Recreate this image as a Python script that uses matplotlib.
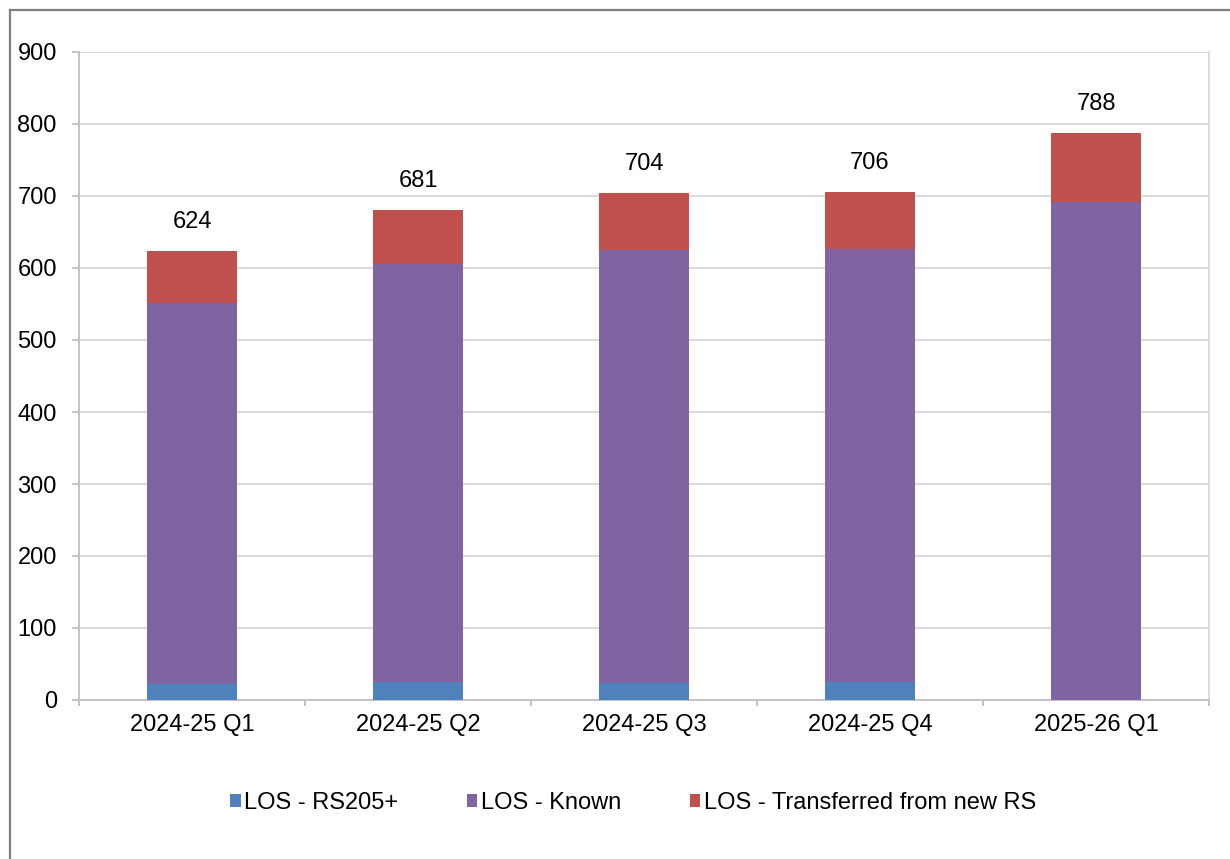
import matplotlib
matplotlib.use("Agg")
import matplotlib.pyplot as plt
from matplotlib.lines import Line2D
import numpy as np

plt.rcParams['font.family'] = ['Liberation Sans', 'DejaVu Sans']

categories = ["2024-25 Q1", "2024-25 Q2", "2024-25 Q3", "2024-25 Q4", "2025-26 Q1"]
rs205 = [22, 25, 23, 25, 0]
known = [530, 580, 602, 602, 692]
transferred = [72, 76, 79, 79, 96]
totals = [624, 681, 704, 706, 788]
series_names = ["LOS - RS205+", "LOS - Known", "LOS - Transferred from new RS"]
colors = ["#4F81BD", "#8064A2", "#C0504D"]

FS = 17

fig = plt.figure(figsize=(12.3, 8.59), dpi=100)
ax = fig.add_axes([79/1230, 1-700/859, (1209-79)/1230, (700-52)/859])

x = np.arange(len(categories))
w = 0.398
b1 = ax.bar(x, rs205, w, color=colors[0], label=series_names[0], zorder=3)
b2 = ax.bar(x, known, w, bottom=rs205, color=colors[1], label=series_names[1], zorder=3)
bottom3 = np.array(rs205) + np.array(known)
b3 = ax.bar(x, transferred, w, bottom=bottom3, color=colors[2], label=series_names[2], zorder=3)

for xi, t in zip(x, totals):
    ax.annotate(str(t), (xi, t), xytext=(0, 16.5), textcoords="offset points",
                ha="center", va="baseline", fontsize=FS)

ax.set_xlim(-0.5, len(categories) - 0.5)
ax.set_ylim(0, 900)
ax.set_yticks(range(0, 901, 100))
ax.yaxis.grid(True, color="#D9D9D9", linewidth=1.3, zorder=0)
ax.set_axisbelow(True)

ax.set_xticks(x)
ax.set_xticklabels(categories, fontsize=FS)
ax.set_xticks(np.arange(-0.5, len(categories), 1.0), minor=True)
ax.tick_params(axis="x", which="major", length=0, pad=10)
ax.tick_params(axis="x", which="minor", length=4.5, color="#BFBFBF", width=1.3)
ax.tick_params(axis="y", labelsize=FS, length=5, color="#BFBFBF", width=1.3, pad=11)

for s in ["left", "bottom", "right"]:
    ax.spines[s].set_color("#BFBFBF")
    ax.spines[s].set_linewidth(1.3)
ax.spines["top"].set_visible(False)
ax.spines["right"].set_color("#D9D9D9")

fig.legend(handles=[b1, b2, b3], labels=series_names, loc="center",
           bbox_to_anchor=(633/1230, 1-803/859), ncol=3, frameon=False,
           fontsize=FS, handlelength=0.45, handleheight=0.45, handletextpad=0.15,
           columnspacing=2.9)

# outer chart-area border (left and top edges visible)
fig.add_artist(Line2D([10/1230, 10/1230], [0, 1-10/859], transform=fig.transFigure,
                      color="#808080", linewidth=1.6))
fig.add_artist(Line2D([10/1230, 1], [1-10/859, 1-10/859], transform=fig.transFigure,
                      color="#808080", linewidth=1.6))

fig.savefig("out.png", dpi=100)
